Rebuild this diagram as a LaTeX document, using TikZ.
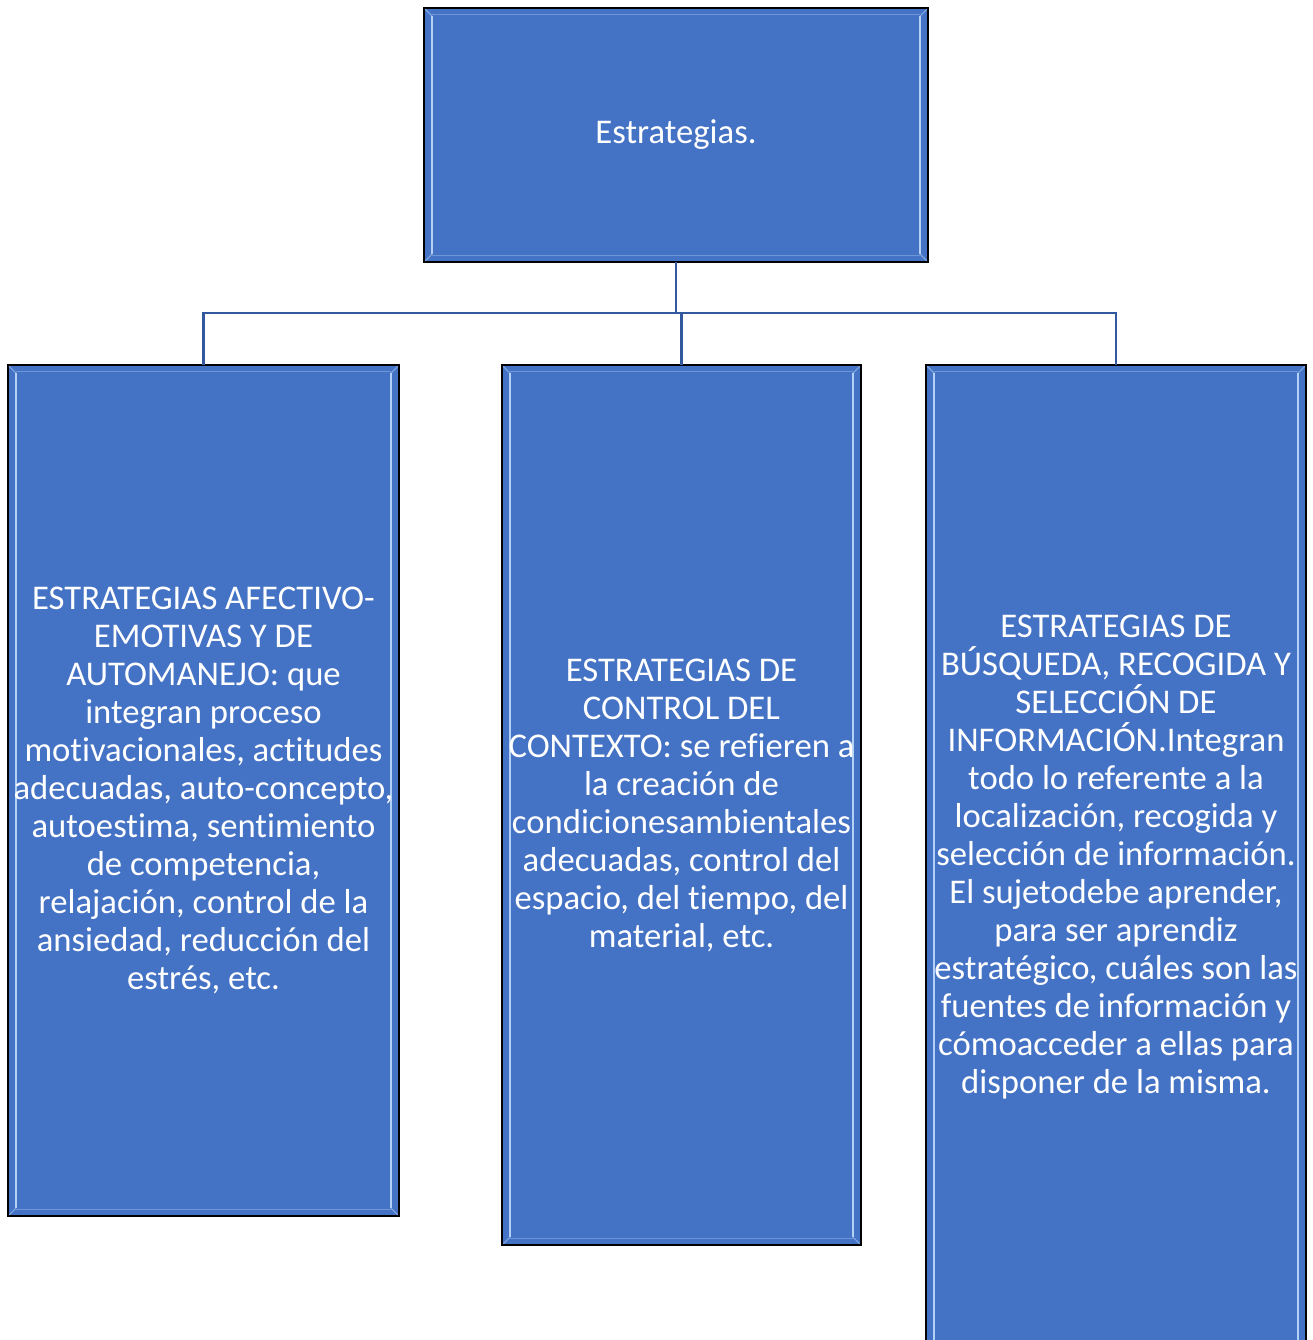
\documentclass[tikz,border=0pt]{standalone}
\usepackage{fontspec}
\setmainfont{Carlito}[Ligatures={NoCommon}]
\usepackage{tikz}
\usetikzlibrary{positioning,calc}

\definecolor{cajaazul}{RGB}{68,114,196}
\definecolor{lineaazul}{RGB}{50,88,158}
\definecolor{brillo}{RGB}{190,220,250}

\begin{document}
\begin{tikzpicture}[
            x=0.75pt, y=-0.75pt,
            outer sep=0pt,
            % Estilo de las cajas
            caja/.style={
                draw=black,
                line width=1.4pt,
                fill=cajaazul,
                inner sep=0pt,
                text=white,
                align=center,
                anchor=north west,
                font=\fontsize{26}{28.5}\selectfont,
                path picture={
                    % brillo lateral (izquierda y derecha)
                    \draw[brillo, line width=1.5pt, opacity=0.9]
                        ([xshift=6pt,yshift=-6pt]path picture bounding box.north west)
                        -- ([xshift=6pt,yshift=6pt]path picture bounding box.south west)
                        ([xshift=-6pt,yshift=-6pt]path picture bounding box.north east)
                        -- ([xshift=-6pt,yshift=6pt]path picture bounding box.south east);
                    % brillo suave arriba y abajo
                    \draw[brillo, line width=1.2pt, opacity=0.35]
                        ([xshift=6pt,yshift=-5pt]path picture bounding box.north west)
                        -- ([xshift=-6pt,yshift=-5pt]path picture bounding box.north east)
                        ([xshift=6pt,yshift=5pt]path picture bounding box.south west)
                        -- ([xshift=-6pt,yshift=5pt]path picture bounding box.south east);
                    \draw[brillo, line width=0.8pt, opacity=0.5]
                        (path picture bounding box.north west) -- ++(6pt,-6pt)
                        (path picture bounding box.north east) -- ++(-6pt,-6pt)
                        (path picture bounding box.south west) -- ++(6pt,6pt)
                        (path picture bounding box.south east) -- ++(-6pt,6pt);
                }
            },
            % Estilo de los conectores
            rama/.style={
                draw=lineaazul,
                line width=2pt
            }
        ]
            \useasboundingbox (0,0) rectangle (1313,1340);

            % CAJA SUPERIOR
            \node[caja, minimum width=378pt, minimum height=190.5pt] (raiz) at (424,8) {Estrategias.};

            % FILA DE CAJAS HIJAS
            \node[caja, minimum width=293.25pt, minimum height=638.25pt] (afectivas) at (8,365)
                {ESTRATEGIAS AFECTIVO-\\EMOTIVAS Y DE\\AUTOMANEJO: que\\integran proceso\\motivacionales, actitudes\\adecuadas, auto-concepto,\\autoestima, sentimiento\\de competencia,\\relajación, control de la\\ansiedad, reducción del\\estrés, etc.};
            \node[caja, minimum width=269.25pt, minimum height=660pt] (contexto) at (502,365)
                {ESTRATEGIAS DE\\CONTROL DEL\\CONTEXTO: se refieren a\\la creación de\\condicionesambientales\\adecuadas, control del\\espacio, del tiempo, del\\material, etc.};
            \node[caja, minimum width=285pt, minimum height=738.75pt] (busqueda) at (926,365)
                {ESTRATEGIAS DE\\BÚSQUEDA, RECOGIDA Y\\SELECCIÓN DE\\INFORMACIÓN.Integran\\todo lo referente a la\\localización, recogida y\\selección de información.\\El sujetodebe aprender,\\para ser aprendiz\\estratégico, cuáles son las\\fuentes de información y\\cómoacceder a ellas para\\disponer de la misma.};

            % CONECTORES
            \coordinate (bus) at ($(raiz.south)+(0,51)$);
            \draw[rama] (raiz.south) -- (bus);
            \draw[rama] (afectivas.north) |- (bus) -| (busqueda.north);
            \draw[rama] (contexto.north) -- (contexto.north |- bus);

        \end{tikzpicture}
\end{document}
